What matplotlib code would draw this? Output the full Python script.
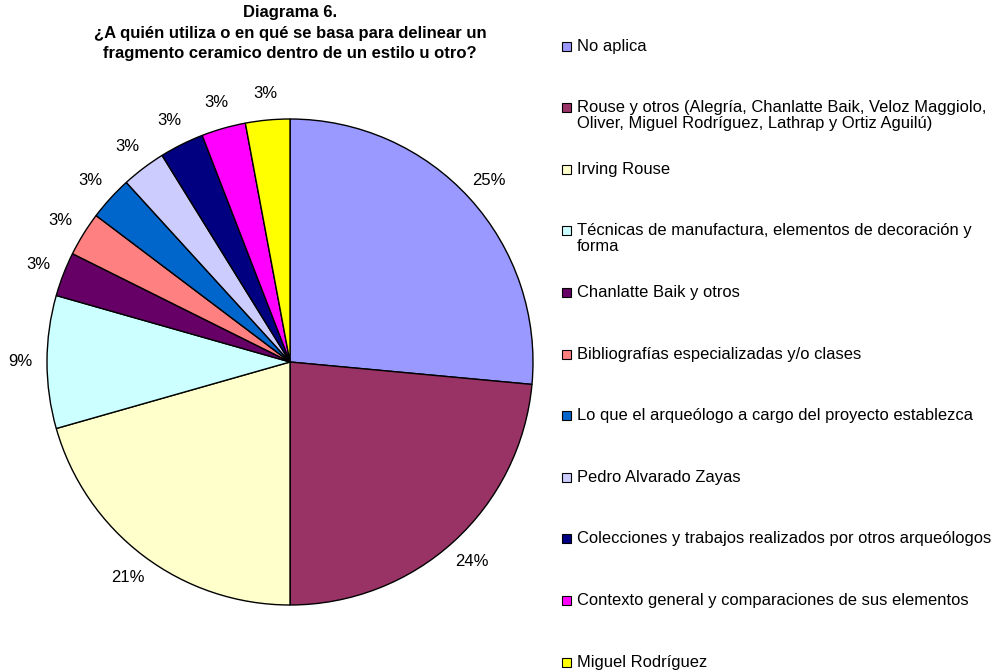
import matplotlib
matplotlib.use("Agg")
import matplotlib.pyplot as plt
from matplotlib.patches import Rectangle

plt.rcParams['font.family'] = ['Liberation Sans', 'DejaVu Sans']

# Datos del diagrama (respuestas por categoria)
categorias = [
    "No aplica",
    "Rouse y otros (Alegría, Chanlatte Baik, Veloz Maggiolo,\nOliver, Miguel Rodríguez, Lathrap y Ortiz Aguilú)",
    "Irving Rouse",
    "Técnicas de manufactura, elementos de decoración y\nforma",
    "Chanlatte Baik y otros",
    "Bibliografías especializadas y/o clases",
    "Lo que el arqueólogo a cargo del proyecto establezca",
    "Pedro Alvarado Zayas",
    "Colecciones y trabajos realizados por otros arqueólogos",
    "Contexto general y comparaciones de sus elementos",
    "Miguel Rodríguez",
]
valores = [9, 8, 7, 3, 1, 1, 1, 1, 1, 1, 1]
etiquetas = ["25%", "24%", "21%", "9%", "3%", "3%", "3%", "3%", "3%", "3%", "3%"]
colores = ["#9999FF", "#993366", "#FFFFCC", "#CCFFFF", "#660066", "#FF8080",
           "#0066CC", "#CCCCFF", "#000080", "#FF00FF", "#FFFF00"]

titulo = ("Diagrama 6.\n¿A quién utiliza o en qué se basa para delinear un\n"
          "fragmento ceramico dentro de un estilo u otro?")

W, H = 998, 670
fig = plt.figure(figsize=(W / 100, H / 100), dpi=100)

# pie: centro (290, 362) px, radio 243 px
cx, cy, r = 290, 362, 243
ax = fig.add_axes([(cx - r) / W, (H - cy - r) / H, 2 * r / W, 2 * r / H])
wedges, texts = ax.pie(valores, colors=colores, labels=etiquetas, startangle=90,
                       counterclock=False, labeldistance=1.11,
                       wedgeprops=dict(edgecolor="black", linewidth=1.0),
                       textprops=dict(fontsize=12, ha="center", va="center"))
ax.set_xlim(-1, 1)
ax.set_ylim(-1, 1)
ax.set_aspect("equal")
ax.axis("off")

fig.text(cx / W, 1 - 5.5 / H, titulo, ha="center", va="top", fontsize=12,
         fontweight="bold", linespacing=1.45)

# leyenda manual
y0, paso = 46, 61.6
for i, (cat, col) in enumerate(zip(categorias, colores)):
    y = y0 + i * paso
    fig.patches.append(Rectangle((562 / W, 1 - (y + 4.5) / H), 9 / W, 9 / H,
                                 transform=fig.transFigure, facecolor=col,
                                 edgecolor="black", linewidth=0.8))
    fig.text(577 / W, 1 - (y - 7.5) / H, cat, ha="left", va="top", fontsize=11.9,
             linespacing=1.05)

fig.savefig("out.png", dpi=100)
